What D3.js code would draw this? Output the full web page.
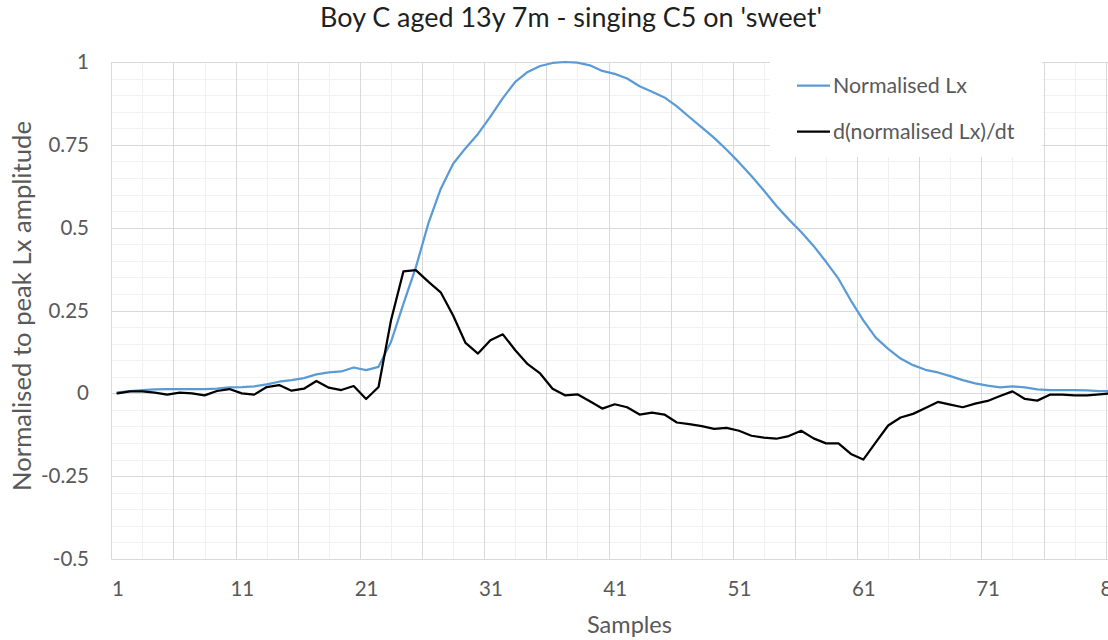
<!DOCTYPE html>
<html>
<head>
<meta charset="utf-8">
<script src="https://cdn.jsdelivr.net/npm/d3@7"></script>
<style>
  body { margin: 0; background: #fff; }
  svg { display: block; font-family: Lato, "Open Sans", sans-serif; }
</style>
</head>
<body>
<svg id="chart" width="1108" height="640"></svg>
<script>
// series, one value per sample
var normLx = [0.003,0.007,0.010,0.012,0.013,0.013,0.013,0.013,0.014,0.018,
  0.019,0.021,0.027,0.035,0.040,0.046,0.057,0.063,0.066,0.078,
  0.070,0.080,0.155,0.270,0.380,0.512,0.617,0.693,0.740,0.783,
  0.835,0.891,0.940,0.970,0.988,0.997,1.000,0.998,0.990,0.973,
  0.964,0.950,0.927,0.910,0.893,0.866,0.834,0.803,0.771,0.735,
  0.697,0.656,0.612,0.566,0.525,0.487,0.445,0.397,0.346,0.280,
  0.220,0.168,0.134,0.105,0.085,0.071,0.063,0.052,0.040,0.030,
  0.023,0.018,0.021,0.018,0.012,0.010,0.010,0.010,0.009,0.007,0.006];

var dNormLx = [0.000,0.006,0.006,0.002,-0.004,0.002,0.000,-0.006,0.007,0.013,
  0.000,-0.004,0.019,0.025,0.008,0.014,0.037,0.017,0.010,0.022,
  -0.017,0.019,0.220,0.368,0.372,0.337,0.305,0.235,0.152,0.120,
  0.160,0.178,0.130,0.088,0.060,0.014,-0.006,-0.003,-0.024,-0.046,
  -0.033,-0.042,-0.064,-0.058,-0.064,-0.088,-0.093,-0.099,-0.107,-0.104,
  -0.113,-0.128,-0.134,-0.137,-0.129,-0.113,-0.136,-0.151,-0.151,-0.183,
  -0.200,-0.148,-0.097,-0.073,-0.062,-0.044,-0.026,-0.034,-0.042,-0.031,
  -0.023,-0.008,0.006,-0.017,-0.022,-0.004,-0.004,-0.006,-0.006,-0.003,0.000];

var xTickLabels = [1, 11, 21, 31, 41, 51, 61, 71, 81];
var yTickValues = [-0.5, -0.25, 0, 0.25, 0.5, 0.75, 1];
var seriesNames = ["Normalised Lx", "d(normalised Lx)/dt"];
var seriesColors = ["#5b9bd5", "#000000"];

var titleText = "Boy C aged 13y 7m - singing C5 on 'sweet'";
var yTitleText = "Normalised to peak Lx amplitude";
var xTitleText = "Samples";

var svg = d3.select("#chart");
var textColor = "#595959";
var fontFam = "Lato, 'Open Sans', sans-serif";

// plot area (the original is cropped on the right, so it runs past the edge)
var plotLeft = 111.3, plotTop = 62, plotBottom = 559;
var nCats = 83;
var step = 12.43;
var plotRight = plotLeft + nCats * step;

var x = d3.scaleLinear().domain([0.5, nCats + 0.5]).range([plotLeft, plotRight]);
var y = d3.scaleLinear().domain([-0.5, 1]).range([plotBottom, plotTop]);

// helper: font size so a string comes out a given width
function fitSize(str, width) {
  var t = svg.append("text").attr("font-size", 100).text(str);
  var w = t.node().getComputedTextLength();
  t.remove();
  return 100 * width / w;
}

// gridlines
var grid = svg.append("g");
var minorY = d3.range(-0.5, 1.0001, 0.05).filter(function(v) {
  return Math.abs(v * 4 - Math.round(v * 4)) > 1e-6;
});
grid.selectAll(".ym").data(minorY).enter().append("line")
  .attr("x1", plotLeft).attr("x2", plotRight)
  .attr("y1", function(d) { return Math.round(y(d)) + 0.5; })
  .attr("y2", function(d) { return Math.round(y(d)) + 0.5; })
  .attr("stroke", "#f2f2f2");

var vLines = d3.range(0.5, nCats + 0.5001, 2.5);
grid.selectAll(".xv").data(vLines).enter().append("line")
  .attr("y1", plotTop).attr("y2", plotBottom)
  .attr("x1", function(d) { return Math.round(x(d)) + 0.5; })
  .attr("x2", function(d) { return Math.round(x(d)) + 0.5; })
  .attr("stroke", function(d) { return ((d - 0.5) % 5 === 0) ? "#d9d9d9" : "#f0f0f0"; });

grid.selectAll(".yM").data(yTickValues).enter().append("line")
  .attr("x1", plotLeft).attr("x2", plotRight)
  .attr("y1", function(d) { return Math.round(y(d)) + 0.5; })
  .attr("y2", function(d) { return Math.round(y(d)) + 0.5; })
  .attr("stroke", "#d9d9d9");

// axis labels
var tickSize = 20.5;
var yAxis = d3.axisLeft(y).tickValues(yTickValues).tickSize(0).tickPadding(0)
  .tickFormat(function(d) { return String(d); });
svg.append("g")
  .attr("transform", "translate(89,0)")
  .call(yAxis)
  .call(function(g) { g.select(".domain").remove(); })
  .selectAll("text")
  .attr("font-family", fontFam)
  .attr("font-size", tickSize)
  .attr("fill", textColor);

var xAxis = d3.axisBottom(x).tickValues(xTickLabels).tickSize(0).tickPadding(0);
svg.append("g")
  .attr("transform", "translate(0,581)")
  .call(xAxis)
  .call(function(g) { g.select(".domain").remove(); })
  .selectAll("text")
  .attr("font-family", fontFam)
  .attr("font-size", tickSize)
  .attr("fill", textColor);

// series lines
var line = d3.line()
  .x(function(d, i) { return x(i + 1); })
  .y(function(d) { return y(d); });

[normLx, dNormLx].forEach(function(series, k) {
  svg.append("path")
    .datum(series)
    .attr("fill", "none")
    .attr("stroke", seriesColors[k])
    .attr("stroke-width", 2.25)
    .attr("stroke-linejoin", "round")
    .attr("stroke-linecap", "round")
    .attr("d", line);
});

// legend
var legend = svg.append("g");
legend.append("rect")
  .attr("x", 770).attr("y", 50).attr("width", 272).attr("height", 107)
  .attr("fill", "#fff");
var legendSize = fitSize(seriesNames[0], 134);
seriesNames.forEach(function(name, k) {
  var ly = 85.7 + k * 46;
  legend.append("line")
    .attr("x1", 797).attr("x2", 830)
    .attr("y1", ly).attr("y2", ly)
    .attr("stroke", seriesColors[k])
    .attr("stroke-width", 2.25);
  legend.append("text")
    .attr("x", 833).attr("y", ly)
    .attr("dy", "0.35em")
    .attr("font-size", legendSize)
    .attr("fill", textColor)
    .text(name);
});

// titles
svg.append("text")
  .attr("x", 571).attr("y", 27)
  .attr("text-anchor", "middle")
  .attr("font-size", fitSize(titleText, 502))
  .attr("fill", "#1f1f1f")
  .text(titleText);

svg.append("text")
  .attr("transform", "translate(31,306) rotate(-90)")
  .attr("text-anchor", "middle")
  .attr("font-size", fitSize(yTitleText, 370))
  .attr("fill", textColor)
  .text(yTitleText);

svg.append("text")
  .attr("x", 629.5).attr("y", 633)
  .attr("text-anchor", "middle")
  .attr("font-size", fitSize(xTitleText, 85))
  .attr("fill", textColor)
  .text(xTitleText);
</script>
</body>
</html>
